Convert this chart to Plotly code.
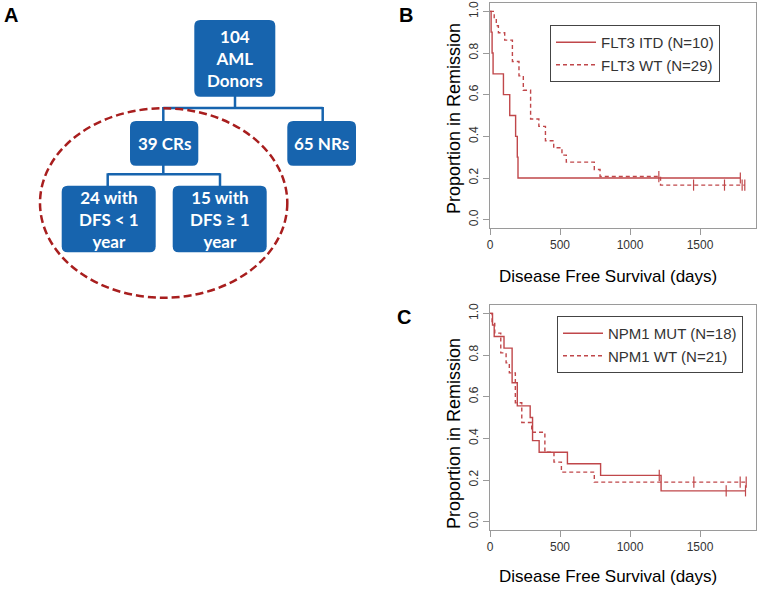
import plotly.graph_objects as go

# ---------------- data ----------------
# Panel B: FLT3 (Kaplan-Meier step points)
itd_days = [0, 8, 15, 22, 96, 141, 183, 195, 200, 1788]
itd_surv = [1.0, 0.9, 0.8, 0.7, 0.6, 0.5, 0.4, 0.3, 0.2, 0.2]
itd_cens_days = [1788]
itd_cens_surv = [0.2]

flt_wt_days = [0, 30, 45, 60, 105, 160, 207, 238, 290, 349, 396, 455, 514, 545, 745, 786, 1218, 1820]
flt_wt_surv = [1.0, 0.966, 0.931, 0.897, 0.862, 0.759, 0.690, 0.621, 0.483, 0.448, 0.379, 0.345,
               0.310, 0.276, 0.241, 0.207, 0.166, 0.166]
flt_wt_cens_days = [1206, 1454, 1675, 1801, 1820]
flt_wt_cens_surv = [0.207, 0.166, 0.166, 0.166, 0.166]

# Panel C: NPM1
mut_days = [0, 18, 30, 100, 158, 195, 287, 304, 351, 553, 790, 1222, 1825]
mut_surv = [1.0, 0.944, 0.889, 0.833, 0.667, 0.556, 0.5, 0.389, 0.333, 0.278, 0.222, 0.148, 0.148]
mut_cens_days = [1209, 1687, 1825]
mut_cens_surv = [0.222, 0.148, 0.148]

npm_wt_days = [0, 15, 34, 77, 115, 138, 181, 227, 298, 392, 457, 510, 745, 1830]
npm_wt_surv = [1.0, 0.952, 0.905, 0.810, 0.762, 0.714, 0.571, 0.476, 0.429, 0.333, 0.286, 0.238, 0.190, 0.190]
npm_wt_cens_days = [1456, 1787, 1830]
npm_wt_cens_surv = [0.190, 0.190, 0.190]

legend_b = ["FLT3 ITD (N=10)", "FLT3 WT (N=29)"]
legend_c = ["NPM1 MUT (N=18)", "NPM1 WT (N=21)"]
x_ticks = [0, 500, 1000, 1500]
y_ticks = [0.0, 0.2, 0.4, 0.6, 0.8, 1.0]
x_title = "Disease Free Survival (days)"
y_title = "Proportion in Remission"

flow_labels = {
    "root": "104<br>AML<br>Donors",
    "cr": "39 CRs",
    "nr": "65 NRs",
    "short": "24 with<br>DFS &lt; 1<br>year",
    "long": "15 with<br>DFS ≥ 1<br>year",
}
panel_labels = ["A", "B", "C"]

# ---------------- styling / layout helpers ----------------
W, H = 760, 595
RED = "#c0474a"
BLUE = "#1764ae"
ELL = "#a81e1e"
FONT = "Liberation Sans, Arial, sans-serif"


def X(v):
    return v / W


def Y(v):
    return 1 - v / H


fig = go.Figure()


def km(days, surv, dash, name, xa, ya, leg):
    fig.add_trace(go.Scatter(
        x=days, y=surv, mode="lines", line=dict(color=RED, width=1.4, dash=dash, shape="hv"),
        name=name, xaxis=xa, yaxis=ya, legend=leg, hoverinfo="skip"))


def cens(days, surv, xa, ya):
    fig.add_trace(go.Scatter(
        x=days, y=surv, mode="markers",
        marker=dict(symbol="line-ns-open", size=8, color=RED, line=dict(color=RED, width=1.2)),
        showlegend=False, xaxis=xa, yaxis=ya, hoverinfo="skip"))


km(itd_days, itd_surv, "solid", legend_b[0], "x", "y", "legend")
km(flt_wt_days, flt_wt_surv, "4px,3px", legend_b[1], "x", "y", "legend")
cens(itd_cens_days, itd_cens_surv, "x", "y")
cens(flt_wt_cens_days, flt_wt_cens_surv, "x", "y")

km(mut_days, mut_surv, "solid", legend_c[0], "x2", "y2", "legend2")
km(npm_wt_days, npm_wt_surv, "4px,3px", legend_c[1], "x2", "y2", "legend2")
cens(mut_cens_days, mut_cens_surv, "x2", "y2")
cens(npm_wt_cens_days, npm_wt_cens_surv, "x2", "y2")

axis_common = dict(showgrid=False, zeroline=False, showline=True, linecolor="#9a9a9a",
                   linewidth=1, mirror=True, ticks="outside", tickcolor="#9a9a9a",
                   ticklen=6, tickfont=dict(family=FONT, size=12, color="#333333"),
                   fixedrange=True, automargin=False)

xb = dict(axis_common, domain=[X(490), X(756)], range=[0, 1900], tickvals=x_ticks, anchor="y")
yb = dict(axis_common, domain=[Y(228), Y(3)], range=[-0.04, 1.04], tickvals=y_ticks,
          tickformat=".1f", tickangle=-90, anchor="x")
xc = dict(axis_common, domain=[X(490), X(756)], range=[0, 1900], tickvals=x_ticks, anchor="y2")
yc = dict(axis_common, domain=[Y(530), Y(305)], range=[-0.04, 1.04], tickvals=y_ticks,
          tickformat=".1f", tickangle=-90, anchor="x2")

legend_style = dict(bgcolor="white", bordercolor="#444444", borderwidth=1,
                    font=dict(family=FONT, size=15, color="#333333"),
                    xanchor="left", yanchor="top", itemwidth=40, xref="paper", yref="paper")

shapes = []


def rrect(x0, y0, x1, y1, r=6):
    p = (f"M {X(x0 + r)},{Y(y0)} L {X(x1 - r)},{Y(y0)} Q {X(x1)},{Y(y0)} {X(x1)},{Y(y0 + r)} "
         f"L {X(x1)},{Y(y1 - r)} Q {X(x1)},{Y(y1)} {X(x1 - r)},{Y(y1)} "
         f"L {X(x0 + r)},{Y(y1)} Q {X(x0)},{Y(y1)} {X(x0)},{Y(y1 - r)} "
         f"L {X(x0)},{Y(y0 + r)} Q {X(x0)},{Y(y0)} {X(x0 + r)},{Y(y0)} Z")
    shapes.append(dict(type="path", path=p, xref="paper", yref="paper",
                       fillcolor=BLUE, line=dict(width=0)))


def seg(x0, y0, x1, y1):
    shapes.append(dict(type="line", xref="paper", yref="paper", x0=X(x0), y0=Y(y0),
                       x1=X(x1), y1=Y(y1), line=dict(color=BLUE, width=2.5)))


# connectors
seg(235, 96, 235, 108)
seg(163.3, 108, 322.7, 108)
seg(163.3, 107, 163.3, 122)
seg(322.7, 107, 322.7, 122)
seg(163.3, 165, 163.3, 174.3)
seg(107.7, 174.3, 220, 174.3)
seg(107.7, 173.3, 107.7, 186)
seg(220, 173.3, 220, 186)

# boxes
boxes = {
    "root": (194.3, 20, 275.3, 96.7),
    "cr": (130, 121, 198.3, 165.7),
    "nr": (287.3, 121, 356, 165.7),
    "short": (61.7, 185.7, 155.7, 252.3),
    "long": (172.7, 185.7, 266.7, 252.3),
}
for k, (x0, y0, x1, y1) in boxes.items():
    rrect(x0, y0, x1, y1)

# dashed ellipse
shapes.append(dict(type="circle", xref="paper", yref="paper", x0=X(40), x1=X(287.3),
                   y0=Y(297.7), y1=Y(108.3), line=dict(color=ELL, width=2.5, dash="8px,4px")))

annotations = []
for k, (x0, y0, x1, y1) in boxes.items():
    annotations.append(dict(text="<b>" + flow_labels[k] + "</b>", xref="paper", yref="paper",
                            x=X((x0 + x1) / 2), y=Y((y0 + y1) / 2 + 0.5), showarrow=False,
                            font=dict(family="Lato, sans-serif", size=17, color="white"),
                            xanchor="center", yanchor="middle"))

for lab, (px, py) in zip(panel_labels, [(10.5, 14.5), (406, 14.5), (404, 316.5)]):
    annotations.append(dict(text="<b>" + lab + "</b>", xref="paper", yref="paper",
                            x=X(px), y=Y(py), showarrow=False, xanchor="center", yanchor="middle",
                            font=dict(family=FONT, size=20, color="black")))

# axis titles
for (cx, cy) in [(607.5, 276.7), (607.5, 576.7)]:
    annotations.append(dict(text=x_title, xref="paper", yref="paper", x=X(cx), y=Y(cy),
                            showarrow=False, xanchor="center", yanchor="middle",
                            font=dict(family=FONT, size=17, color="black")))
for (cx, cy) in [(454, 119), (454, 434)]:
    annotations.append(dict(text=y_title, xref="paper", yref="paper", x=X(cx), y=Y(cy),
                            showarrow=False, xanchor="center", yanchor="middle", textangle=-90,
                            font=dict(family=FONT, size=18, color="black")))

fig.update_layout(
    template="none",
    width=W, height=H, margin=dict(l=0, r=0, t=0, b=0, autoexpand=False),
    paper_bgcolor="white", plot_bgcolor="white",
    xaxis=xb, yaxis=yb, xaxis2=xc, yaxis2=yc,
    legend=dict(legend_style, x=X(550), y=Y(25)),
    legend2=dict(legend_style, x=X(557), y=Y(316)),
    shapes=shapes, annotations=annotations,
)

fig.write_html("out.html", config={"displayModeBar": False},
               post_script="document.body.style.margin='0';document.body.style.padding='0';")
